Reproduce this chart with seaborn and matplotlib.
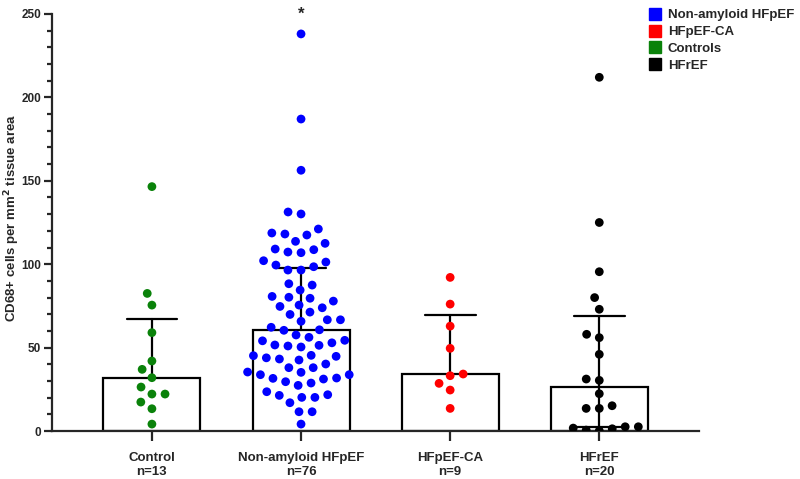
import matplotlib
matplotlib.use('Agg')
import matplotlib.pyplot as plt
from matplotlib.ticker import MultipleLocator
from matplotlib.lines import Line2D
import seaborn as sns
import numpy as np
import pandas as pd

groups = ['Control', 'Non-amyloid HFpEF', 'HFpEF-CA', 'HFrEF']
tick_labels = ['Control\nn=13', 'Non-amyloid HFpEF\nn=76', 'HFpEF-CA\nn=9', 'HFrEF\nn=20']
group_colors = ['#0a820a', '#0000ff', '#ff0000', '#000000']
legend_labels = ['Non-amyloid HFpEF', 'HFpEF-CA', 'Controls', 'HFrEF']
legend_colors = ['#0000ff', '#ff0000', '#0a820a', '#000000']

# values
control = [146.5, 82.5, 75.5, 59, 42, 37, 32, 22.2, 22.2, 26.4, 17.4, 13.4, 4.2]
non_amyloid = [238, 187, 156.3, 131.3, 130.1,
               118.1, 112.5, 106.9, 96.5, 88.3, 80.7, 75.5, 69.9, 62.2, 56.2, 50.4, 43.2, 35.2, 29.6, 21.8,
               121.1, 108.7, 102.1, 96.5, 84.5, 77.9, 66.7, 52.9, 42.6, 35.4, 28.8, 23.6, 17, 4.2,
               117.5, 107.3, 98.5, 87.5, 80.2, 73.9, 66.7, 60.4, 51, 45.4, 40.2, 33.8, 27.4, 21.4,
               113.7, 99.5, 79.6, 71.3, 65.8, 57.6, 51.6, 43.9, 38, 31.2, 20.2,
               118.7, 109.1, 101.3, 74.7, 60.7, 51.4, 33.8, 20.2,
               54.1, 44.8, 38, 31.6,
               54.4, 45.2, 31.8,
               11.6, 11.6]
hfpef_ca = [92.1, 76.1, 62.9, 49.6, 34.2, 33.2, 28.6, 24.6, 13.6]
hfref = [212, 125, 95.5, 80, 73, 56, 58, 46, 31.2, 30.4, 22.4, 15.2, 13.6, 13.6,
         0.6, 2.6, 1.4, 2.6, 0.2, 1.8]
show_lower = [False, False, False, True]

all_vals = [control, non_amyloid, hfpef_ca, hfref]
df = pd.DataFrame({'group': np.repeat(groups, [len(v) for v in all_vals]),
                   'value': np.concatenate(all_vals)})

sns.set_style('ticks')
plt.rcParams['font.family'] = ['Liberation Sans', 'DejaVu Sans']
plt.rcParams['font.weight'] = 'bold'
plt.rcParams['axes.labelweight'] = 'bold'

fig = plt.figure(figsize=(8, 4.79), dpi=100)
ax = fig.add_axes([0.065, 0.100, 0.809, 0.871])

sns.barplot(data=df, x='group', y='value', order=groups, estimator=np.median,
            errorbar=None, width=0.65, color='white', saturation=1,
            edgecolor='black', linewidth=1.6, ax=ax, zorder=1)

# median with interquartile range
for i, g in enumerate(groups):
    v = df.loc[df['group'] == g, 'value'].values
    med = np.median(v)
    q1, q3 = np.percentile(v, [25, 75], method='weibull')
    ax.plot([i, i], [med, q3], color='black', lw=1.6, zorder=2)
    ax.plot([i - 0.17, i + 0.17], [q3, q3], color='black', lw=1.6, zorder=2)
    if show_lower[i]:
        ax.plot([i, i], [q1, med], color='black', lw=1.6, zorder=2)
        ax.plot([i - 0.17, i + 0.17], [q1, q1], color='black', lw=1.6, zorder=2)

ax.set_xlim(-0.67, 3.67)
ax.set_ylim(0, 250)

# swarm laid out with a roomy spacing, then the dots shrunk to their real size
sns.swarmplot(data=df, x='group', y='value', order=groups, hue='group',
              hue_order=groups, palette=group_colors, size=9, legend=False,
              ax=ax, zorder=4, linewidth=0)
ax.set_xlim(-0.67, 3.67)
fig.canvas.draw()
for coll in ax.collections:
    if 'draw' in coll.__dict__:
        del coll.draw
    coll.set_sizes([6.3 ** 2])

ax.text(1, 250, '*', ha='center', va='center', fontsize=12, fontweight='bold', clip_on=False)

ax.yaxis.set_major_locator(MultipleLocator(50))
ax.yaxis.set_minor_locator(MultipleLocator(10))
ax.set_xticks(range(4))
ax.set_xticklabels(tick_labels, fontsize=9.5, fontweight='bold')
for lab in ax.get_yticklabels():
    lab.set_fontsize(8.5)
    lab.set_fontweight('bold')
ax.set_xlabel('')
ax.set_ylabel('CD68+ cells per mm$^{\\mathbf{2}}$ tissue area', fontsize=9.5, fontweight='bold')
ax.yaxis.set_label_coords(-0.046, 0.51)

sns.despine(ax=ax)
for s in ['left', 'bottom']:
    ax.spines[s].set_linewidth(1.6)
ax.tick_params(axis='y', which='major', length=6, width=1.6, pad=2)
ax.tick_params(axis='y', which='minor', length=3.5, width=1.6)
ax.tick_params(axis='x', which='major', length=7, width=1.6, pad=8)

handles = [Line2D([], [], marker='s', linestyle='', color=c, markersize=9) for c in legend_colors]
fig.legend(handles, legend_labels, loc='upper left', bbox_to_anchor=(0.805, 0.992),
           frameon=False, handlelength=0.9, handletextpad=0.5, labelspacing=0.35,
           borderaxespad=0, prop={'size': 9.5, 'weight': 'bold'})

fig.savefig('out.png', dpi=100)
